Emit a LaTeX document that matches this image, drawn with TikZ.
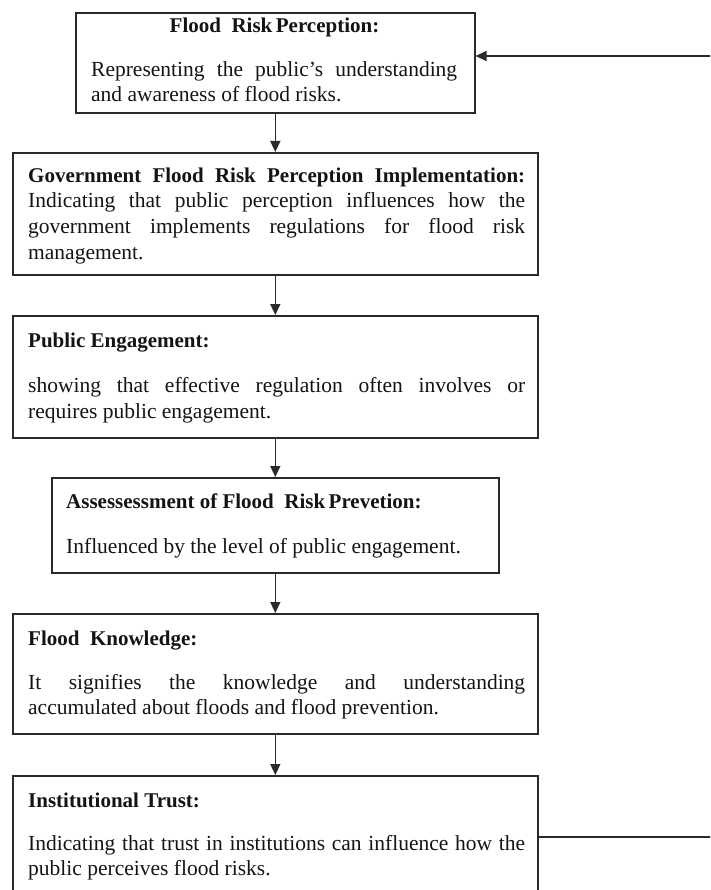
\documentclass[tikz,border=0pt]{standalone}
\usepackage{fontspec}
\setmainfont{Liberation Serif}
\usetikzlibrary{arrows.meta}
\definecolor{linecol}{HTML}{2A2A2A}
\definecolor{txtcol}{HTML}{141414}
\begin{document}
\begin{tikzpicture}[x=1pt,y=-1pt,
  boxnode/.style={draw=linecol, line width=1.6pt, rectangle, inner sep=0pt, anchor=north west},
  ttl/.style={anchor=base west, inner sep=0pt, font=\fontsize{21}{25}\selectfont\bfseries, text=txtcol},
  bodyline/.style={anchor=base west, inner sep=0pt, font=\fontsize{21.5}{25.5}\selectfont, text=txtcol},
  arr/.style={draw=linecol, line width=1.5pt, -{Triangle[length=11pt,width=10pt]}},
  conn/.style={draw=linecol, line width=1.5pt}]
\useasboundingbox (0,0) rectangle (710,890);
\fill[white] (0,0) rectangle (710,890);
\clip (0,0) rectangle (710,890);

% boxes
\node[boxnode, minimum width=399pt, minimum height=100pt] (b1) at (75,12) {};
\node[boxnode, minimum width=525pt, minimum height=122pt] (b2) at (12,152) {};
\node[boxnode, minimum width=525pt, minimum height=122pt] (b3) at (12,315) {};
\node[boxnode, minimum width=447pt, minimum height=95pt] (b4) at (51,477) {};
\node[boxnode, minimum width=525pt, minimum height=120pt] (b5) at (12,613) {};
\node[boxnode, minimum width=525pt, minimum height=130pt] (b6) at (12,775) {};

% box 1
\node[ttl, anchor=base] (t1) at (274.5,33) {Flood\ \ Risk\,Perception:};
\node[bodyline] (t1a) at (91,77) {\makebox[366pt][s]{Representing the public's understanding}};
\node[bodyline] (t1b) at (91,102) {and awareness of flood risks.};

% box 2
\node[ttl] (t2) at (28,183) {\makebox[497pt][s]{Government Flood Risk Perception Implementation:}};
\node[bodyline] (t2a) at (28,208) {\makebox[497pt][s]{Indicating that public perception influences how the}};
\node[bodyline] (t2b) at (28,233.5) {\makebox[497pt][s]{government implements regulations for flood risk}};
\node[bodyline] (t2c) at (28,259) {management.};

% box 3
\node[ttl] (t3) at (28,347) {Public Engagement:};
\node[bodyline] (t3a) at (28,392) {\makebox[497pt][s]{showing that effective regulation often involves or}};
\node[bodyline] (t3b) at (28,418) {requires public engagement.};

% box 4
\node[ttl] (t4) at (66,508) {Assessessment of Flood\ \ Risk\,Prevetion:};
\node[bodyline] (t4a) at (66,553) {Influenced by the level of public engagement.};

% box 5
\node[ttl] (t5) at (28,645) {Flood\ \ Knowledge:};
\node[bodyline] (t5a) at (28,689) {\makebox[497pt][s]{It signifies the knowledge and understanding}};
\node[bodyline] (t5b) at (28,714) {accumulated about floods and flood prevention.};

% box 6
\node[ttl] (t6) at (28,807) {Institutional Trust:};
\node[bodyline] (t6a) at (28,850) {\makebox[497pt][s]{Indicating that trust in institutions can influence how the}};
\node[bodyline] (t6b) at (28,875) {public perceives flood risks.};

% vertical arrows
\draw[arr] (b1.south) -- (b2.north);
\draw[arr] (b2.south) -- (b3.north);
\draw[arr] (b3.south) -- (b4.north);
\draw[arr] (b4.south) -- (b5.north);
\draw[arr] (b5.south) -- (b6.north);

% feedback connector
\coordinate (rt) at (714,56);
\coordinate (rb) at (714,837);
\draw[conn] (b6.east |- rb) -- (rb) -- (rt);
\draw[arr] (rt) -- (rt -| b1.east);
\end{tikzpicture}
\end{document}
